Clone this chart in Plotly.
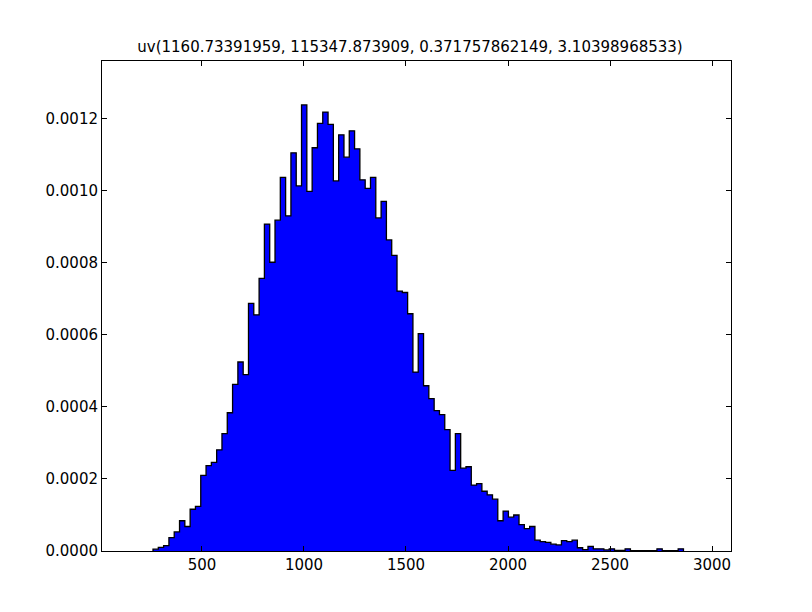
import plotly.graph_objects as go

title = "uv(1160.73391959, 115347.873909, 0.371757862149, 3.10398968533)"
bin_start = 260.0
bin_width = 26.0
heights_e4 = [0.05,0.1,0.15,0.37,0.53,0.84,0.68,1.16,1.24,2.1,
              2.37,2.46,2.81,3.26,3.84,4.63,5.25,4.9,6.88,6.56,
              7.57,9.08,8.02,9.19,10.38,9.31,11.06,10.14,12.39,9.99,
              11.2,11.88,12.19,11.85,10.28,11.56,10.94,11.67,11.17,10.31,
              10.07,10.38,9.25,9.71,8.64,8.21,7.22,7.18,6.59,4.97,
              6.04,4.59,4.23,3.9,3.79,3.37,2.24,3.26,2.3,2.34,
              1.83,1.87,1.66,1.56,1.44,0.84,1.11,0.94,1.0,0.73,
              0.62,0.68,0.3,0.26,0.24,0.19,0.17,0.29,0.26,0.3,
              0.09,0.04,0.13,0.06,0.06,0.03,0.06,0.02,0.02,0.06,
              0.01,0.01,0.01,0.01,0.01,0.06,0.01,0.01,0.01,0.06]
xticks = [500, 1000, 1500, 2000, 2500, 3000]
yticks = [0, 0.0002, 0.0004, 0.0006, 0.0008, 0.0010, 0.0012]

xs, ys = [bin_start], [0.0]
for i, h in enumerate(heights_e4):
    xs.append(bin_start + i * bin_width)
    ys.append(h * 1e-4)
xs.append(bin_start + len(heights_e4) * bin_width)
ys.append(heights_e4[-1] * 1e-4)
xs.append(xs[-1]); ys.append(0.0)

fig = go.Figure(go.Scatter(x=xs, y=ys, mode="lines", line=dict(shape="hv", color="black", width=1.3),
                           fill="tozeroy", fillcolor="#0000ff", showlegend=False))
axis_common = dict(showgrid=False, zeroline=False, showline=True, linecolor="black", linewidth=1,
                   mirror="ticks", ticks="inside", ticklen=5, tickcolor="black",
                   tickfont=dict(family="DejaVu Sans", size=15, color="black"))
fig.update_xaxes(range=[10, 3093], tickvals=xticks, ticktext=[str(v) for v in xticks], **axis_common)
fig.update_yaxes(range=[0, 0.001361], tickvals=yticks, ticktext=[f"{v:.4f}" for v in yticks], **axis_common)
fig.update_layout(width=804, height=604, margin=dict(l=94, r=81, t=53, b=61),
                  plot_bgcolor="white", paper_bgcolor="white",
                  title=dict(text=title, x=0.5, xanchor="center", y=1 - 39/604, yanchor="middle",
                             font=dict(family="DejaVu Sans", size=15, color="black")))
fig.write_html("out.html")
